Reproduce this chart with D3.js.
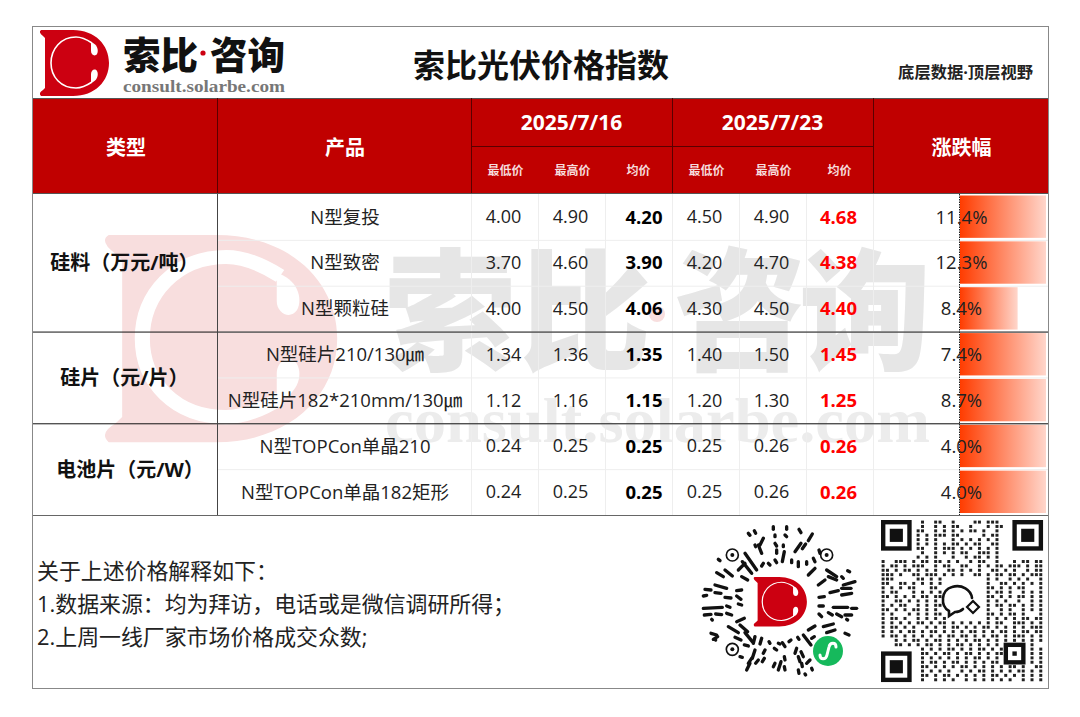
<!DOCTYPE html>
<html>
<head>
<meta charset="utf-8">
<script src="https://cdn.jsdelivr.net/npm/d3@7"></script>
<style>
  html, body { margin: 0; background: #fff; }
  svg { display: block; }
  text { font-family: "Open Sans", "Noto Sans CJK SC", sans-serif; }
</style>
</head>
<body>
<div id="chart"></div>
<script>
const dates = ["2025/7/16", "2025/7/23"];
const priceHeads = ["最低价", "最高价", "均价", "最低价", "最高价", "均价"];
const groups = ["硅料（万元/吨）", "硅片（元/片）", "电池片（元/W）"];
const groupSpans = [3, 2, 2];
const products = [
  "N型复投", "N型致密", "N型颗粒硅", "N型硅片210/130㎛",
  "N型硅片182*210mm/130㎛", "N型TOPCon单晶210", "N型TOPCon单晶182矩形",
];
const lowOld = [4.0, 3.7, 4.0, 1.34, 1.12, 0.24, 0.24];
const highOld = [4.9, 4.6, 4.5, 1.36, 1.16, 0.25, 0.25];
const avgOld = [4.2, 3.9, 4.06, 1.35, 1.15, 0.25, 0.25];
const lowNew = [4.5, 4.2, 4.3, 1.4, 1.2, 0.25, 0.25];
const highNew = [4.9, 4.7, 4.5, 1.5, 1.3, 0.26, 0.26];
const avgNew = [4.68, 4.38, 4.4, 1.45, 1.25, 0.26, 0.26];
const change = [11.4, 12.3, 8.4, 7.4, 8.7, 4.0, 4.0];
// share of the bar cell each data bar fills, as drawn in the picture
const barShare = [1, 1, 0.67, 1, 1, 1, 1];
const notes = [
  "关于上述价格解释如下：",
  "1.数据来源：均为拜访，电话或是微信调研所得；",
  "2.上周一线厂家市场价格成交众数;",
];

const qrRows = [
  ".........1..11..1....11.111..........",
  ".........1..1.1.11..1...1.11.........",
  "........11..1.1.1.1.11.1..1..........",
  "........1.1.111.11.....1.11..........",
  "........1.1.1...1.1.1.1.1.1..........",
  "........1.1.1.1.11.1.11..11..........",
  "........11..1.111.1.1.1.1.1..........",
  ".........1..1.1.1.11..111.1..........",
  "........1.1.1...1..1.11.1.1..........",
  "1..111.1.11.11.1.1..1.11..1...1.11.11",
  "1.11.1.111..1.11..11..1.1.11.111.1.11",
  "11.1.11.1.1.1..11.1.1.1..11.1.1..1.11",
  "111.1..11.111.1.1.1..11.1.11.11.1.111",
  "111.....11.1.1..........1.1..1.1.1..1",
  "11..11.1.1.1.1..........1..11.1.1.1.1",
  "1.1.1.11...11...........11.1.1.11...1",
  "1.11...1.1.1.1..........1.11.1..1.1.1",
  "11.1.1.1.11.11..........11.1.1.11.1.1",
  "1..11.1.1.1.1...........1.1.1..1..1.1",
  "1.1.11..1.1.11..........1.11.11.1.1.1",
  "11.1.1.11.1.1...........1..1.1..1.1.1",
  "1.1...1.1.1.11..........11.1.11.1...1",
  "1.11.1..1.1.1.1.........1.1.1.1.11.11",
  "1.1.1.1.11.1.11.1.1.1.1.1.11..111.1.1",
  "1.11.1.1..1.1.1.11.1.1.11.1.1.1.1.111",
  "1.1.1.11.1.11.1.1.1.11.1.1.11.1.11.11",
  "1.11.1.1.1.1.1.11.11.1.1.11.1.111.1.1",
  "...1.1.11.1.11.1.1.1.11.1.1.1.1.1.1.1",
  "...11.1.1.11.1.1.11.1.1.1.1.1.....1..",
  ".........1.1.1.11.1.1.11.1.1......1.1",
  ".........11.1.11.1.11.1.1.11......1.1",
  ".........1.1.1.1.1.1.11.1.1.......1.1",
  ".........1.11.1.11.1.1.1.11.1.1.1.1.1",
  ".........11.1.1.1.11.1.1.1.1.11.1..11",
  ".........1.1.1.1..1.1.11.1.1.1.11.1.1",
  ".........11.1.11.1.1.1.1.11.1.1.1.1.1",
  ".........1..1.1.1..1.1.1.1.1.1..1.1.1",
];

// dashes of the round code: x1, y1, x2, y2
const codeDashes = [
  [235,20,235,28],[275,20,275,28],[312,28,318,38],[352,42,340,62],[160,40,165,46],[178,32,182,40],
  [205,55,195,75],[190,75,200,100],[240,45,240,50],[270,45,275,50],[240,70,245,78],[265,75,265,80],
  [318,70,300,95],[332,72,322,86],[245,90,245,100],[268,95,262,125],[240,120,245,128],[150,100,185,150],
  [142,125,170,160],[205,130,200,138],[220,130,225,135],[290,120,290,128],[310,125,310,140],[335,125,335,133],
  [355,115,360,125],[372,90,375,100],[180,75,182,80],[70,118,75,122],[90,150,112,168],[65,158,85,170],
  [130,150,150,130],[140,170,158,180],[340,165,360,145],[370,195,390,180],[395,150,425,170],[400,170,425,180],
  [458,152,464,155],[440,170,445,175],[445,195,480,185],[440,205,468,205],[405,218,430,212],[440,225,470,220],
  [25,228,35,226],[30,208,48,210],[60,195,95,205],[60,218,78,220],[90,232,108,234],[125,212,140,210],
  [125,228,138,238],[25,265,82,262],[95,258,105,262],[28,285,48,283],[62,282,80,284],[95,280,110,285],
  [130,252,140,255],[50,298,52,300],[372,232,388,230],[415,262,458,262],[470,265,485,265],[372,258,385,258],
  [400,278,412,285],[425,282,440,290],[450,285,470,285],[372,282,380,290],[455,298,458,300],[125,305,148,295],
  [100,320,130,338],[135,315,158,335],[48,340,65,345],[55,358,68,350],[120,352,138,360],[150,338,172,365],
  [175,370,180,350],[200,355,195,372],[222,365,225,370],[250,370,255,372],[282,365,288,360],[308,352,312,358],
  [325,345,348,375],[360,318,340,330],[385,320,415,312],[395,338,420,330],[450,340,462,345],[350,355,358,350],
  [180,390,172,415],[210,390,205,400],[160,430,170,415],[155,450,165,430],[182,430,190,420],[202,425,208,415],
  [235,440,240,430],[250,450,258,425],[268,410,270,420],[268,440,270,450],[238,385,245,390],[262,368,270,380],
  [300,400,305,385],[318,395,325,410],[310,410,315,425],[320,430,322,440],[335,430,345,420],[350,445,352,450],
  [310,450,312,460],[330,462,332,465],[148,375,160,378],[60,358,62,360],[135,410,142,412],
];

const W = 1080, H = 717;
const box = { left: 32, right: 1048, top: 26, bottom: 688 };
const headTop = 98, headBottom = 194, headMid = 146, tableBottom = 515;
const colType = 217, colPrice = 471, colPriceEnd = 873;
const RED = "#c00000", LINE = "#5a0000", GRID = "#eeeeee";

const x = d3.scaleBand().domain(d3.range(6)).range([colPrice, colPriceEnd]);
const y = d3.scaleBand().domain(d3.range(products.length)).range([headBottom, tableBottom]);
const barX = d3.scaleLinear().domain([0, 1]).range([960, 1046]);
const fmt = d3.format(".2f");

const svg = d3.select("#chart").append("svg").attr("width", W).attr("height", H);
svg.append("rect").attr("width", W).attr("height", H).attr("fill", "#fff");

const defs = svg.append("defs");
const grad = defs.append("linearGradient").attr("id", "barFill");
grad.append("stop").attr("offset", "0").attr("stop-color", "#ff3c00");
grad.append("stop").attr("offset", "1").attr("stop-color", "#ffd6cb");

function line(x1, y1, x2, y2, color, width) {
  svg.append("line").attr("x1", x1).attr("y1", y1).attr("x2", x2).attr("y2", y2)
    .attr("stroke", color).attr("stroke-width", width || 1);
}

function label(g, str, px, py, size, opts) {
  opts = opts || {};
  return g.append("text").attr("x", px).attr("y", py)
    .attr("text-anchor", opts.anchor || "middle")
    .attr("dominant-baseline", "central")
    .attr("font-size", size)
    .attr("font-weight", opts.weight || 400)
    .attr("fill", opts.fill || "#222")
    .text(str);
}

// D mark with the open C ring, 70 x 66 in local units
function drawLogo(px, py, sx, sy, red, ring, ringWidth) {
  const g = svg.append("g").attr("transform", `translate(${px},${py}) scale(${sx},${sy})`);
  g.append("path")
    .attr("d", "M2,0 L34,0 C56,0 70,15 70,33 C70,51 56,66 34,66 L2,66 Q-1,63 4,60 L6,58 L6,8 L4,6 Q-1,2 2,0 Z")
    .attr("fill", red);
  g.append("path")
    .attr("d", "M53,13 C47,9 42,7 37,7 C22,7 12,19 12,33 C12,47 22,58 37,58 C42,58 47,56 53,52")
    .attr("fill", "none").attr("stroke", ring).attr("stroke-width", ringWidth);
  g.append("path").attr("d", "M52,12 C58,14 60,20 58,24 C56,27 52,25 52,21 Z").attr("fill", ring);
  g.append("path").attr("d", "M52,53 C58,51 60,45 58,41 C56,38 52,40 52,44 Z").attr("fill", ring);
}

// watermark
drawLogo(102, 235, 3.36, 3.14, "#f8dede", "#ffffff", 4.5);
const mark = svg.append("g");
[["索", 450], ["比", 585], ["咨", 740], ["询", 865]].forEach(([ch, cx]) => {
  label(mark, ch, cx, 309, 132, { weight: 900, fill: "#e6e6e6" });
});
mark.append("circle").attr("cx", 657).attr("cy", 314).attr("r", 8).attr("fill", "#f8dede");
label(mark, "consult.solarbe.com", 385, 420, 64, { anchor: "start", weight: 700, fill: "#ececec" })
  .style("font-family", "'Liberation Serif', serif")
  .attr("textLength", 545).attr("lengthAdjust", "spacingAndGlyphs");

// body grid
y.domain().slice(1).forEach((i) => line(colType, y(i) + 0.5, box.right, y(i) + 0.5, GRID));
x.domain().slice(1).forEach((i) => line(x(i) + 0.5, headBottom, x(i) + 0.5, tableBottom, GRID));
line(colPrice + 0.5, headBottom, colPrice + 0.5, tableBottom, GRID);
line(colPriceEnd + 0.5, headBottom, colPriceEnd + 0.5, tableBottom, GRID);

// data bars
svg.selectAll("rect.bar")
  .data(barShare)
  .join("rect")
  .attr("class", "bar")
  .attr("x", barX(0))
  .attr("y", (d, i) => y(i) + 1.5)
  .attr("width", (d) => barX(d) - barX(0))
  .attr("height", y.bandwidth() - 3.5)
  .attr("fill", "url(#barFill)");
svg.append("line").attr("x1", 959.5).attr("x2", 959.5).attr("y1", headBottom).attr("y2", tableBottom)
  .attr("stroke", "#222").attr("stroke-dasharray", "1.5 1");

// group lines
let rowAt = 0;
groupSpans.forEach((span, k) => {
  rowAt += span;
  if (k < groupSpans.length - 1) line(box.left, y(rowAt) + 0.5, box.right, y(rowAt) + 0.5, "#111");
});
line(box.left, tableBottom + 0.5, box.right, tableBottom + 0.5, "#666");
line(colType + 0.5, headBottom, colType + 0.5, tableBottom, "#444");

// header
svg.append("rect").attr("x", box.left).attr("y", headTop).attr("width", box.right - box.left)
  .attr("height", headBottom - headTop).attr("fill", RED);
line(box.left, headTop + 0.5, box.right, headTop + 0.5, "#555");
line(colType + 0.5, headTop, colType + 0.5, headBottom, LINE);
line(colPrice + 0.5, headTop, colPrice + 0.5, headBottom, LINE);
line(x(3) + 0.5, headTop, x(3) + 0.5, headBottom, LINE);
line(colPriceEnd + 0.5, headTop, colPriceEnd + 0.5, headBottom, LINE);
line(colPrice, headMid + 0.5, colPriceEnd, headMid + 0.5, LINE);
line(box.left, headBottom - 0.5, box.right, headBottom - 0.5, "#555");

const head = svg.append("g");
label(head, "类型", 126, 147, 20, { weight: 700, fill: "#fff" });
label(head, "产品", 345, 147, 20, { weight: 700, fill: "#fff" });
label(head, "涨跌幅", 961.5, 147, 20, { weight: 700, fill: "#fff" });
dates.forEach((d, i) => label(head, d, x(i * 3) + x.step() * 1.5, 122, 21, { weight: 700, fill: "#fff" }));
priceHeads.forEach((d, i) => label(head, d, x(i) + x.bandwidth() / 2 + (i % 3 === 2 ? 0 : 1), 170, 12, { weight: 700, fill: "#f6dcdc" }));

// group labels
rowAt = 0;
groupSpans.forEach((span, k) => {
  const cy = (y(rowAt) + y(rowAt + span - 1) + y.bandwidth()) / 2;
  label(svg, groups[k], k === 2 ? 130 : 124.5, cy, 20, { weight: 700, fill: "#111" });
  rowAt += span;
});

// body cells
products.forEach((p, i) => {
  const cy = y(i) + y.bandwidth() / 2 - 0.8;
  label(svg, p, 345, cy, 18.5);
  [lowOld, highOld].forEach((col, c) => label(svg, fmt(col[i]), x(c) + x.bandwidth() / 2 - 1, cy, 18));
  label(svg, fmt(avgOld[i]), x(2) + x.bandwidth() / 2 + 5.5, cy, 18.5, { weight: 700, fill: "#000" });
  [lowNew, highNew].forEach((col, c) => label(svg, fmt(col[i]), x(c + 3) + x.bandwidth() / 2 - 1, cy, 18));
  label(svg, fmt(avgNew[i]), x(5) + x.bandwidth() / 2 - 1, cy, 18.5, { weight: 700, fill: "#ff0000" });
  label(svg, d3.format(".1f")(change[i]) + "%", 961.5, cy, 18.5);
});

// top strip
drawLogo(39, 30, 1, 1, "#cc0011", "#ffffff", 1.6);
label(svg, "索比", 123, 54, 37.5, { anchor: "start", weight: 900, fill: "#111" });
svg.append("circle").attr("cx", 203).attr("cy", 53).attr("r", 2.6).attr("fill", "#cc0011");
label(svg, "咨询", 210, 54, 37.5, { anchor: "start", weight: 900, fill: "#111" });
label(svg, "consult.solarbe.com", 123, 86, 17, { anchor: "start", weight: 700, fill: "#777" })
  .style("font-family", "'Liberation Serif', serif")
  .attr("textLength", 162).attr("lengthAdjust", "spacingAndGlyphs");
label(svg, "索比光伏价格指数", 541, 64, 32, { weight: 700, fill: "#111" });
label(svg, "底层数据·顶层视野", 1033, 72, 16.3, { anchor: "end", weight: 700, fill: "#222" });

// notes
notes.forEach((n, i) => label(svg, n, 37, [570, 603, 636][i], 21.9, { anchor: "start" }));

// round code
const code = svg.append("g").attr("transform", "translate(695,520) scale(0.3333)");
code.selectAll("line").data(codeDashes).join("line")
  .attr("x1", (d) => d[0]).attr("y1", (d) => d[1]).attr("x2", (d) => d[2]).attr("y2", (d) => d[3])
  .attr("stroke", "#111").attr("stroke-width", 10).attr("stroke-linecap", "round");
[[112, 105], [395, 105], [112, 388]].forEach(([cx, cy]) => {
  code.append("circle").attr("cx", cx).attr("cy", cy).attr("r", 18).attr("fill", "none")
    .attr("stroke", "#111").attr("stroke-width", 5);
  code.append("circle").attr("cx", cx).attr("cy", cy).attr("r", 6).attr("fill", "#111");
});
drawLogo(753, 577, 0.77, 0.75, "#cc0011", "#ffffff", 1.6);
svg.append("circle").attr("cx", 828).attr("cy", 651).attr("r", 15).attr("fill", "#16b95c");
svg.append("path")
  .attr("d", "M820,655 C820,660 826,660 827,655 L829,647 C830,642 836,642 836,647")
  .attr("fill", "none").attr("stroke", "#fff").attr("stroke-width", 3).attr("stroke-linecap", "round");

// square code
const qrX = 881, qrY = 520, cell = 4.38;
const qr = svg.append("g");
qrRows.forEach((row, r) => {
  row.split("").forEach((ch, c) => {
    if (ch === "1") {
      qr.append("rect").attr("x", qrX + c * cell + 0.6).attr("y", qrY + r * cell + 0.6)
        .attr("width", cell - 1.4).attr("height", cell - 1.4).attr("fill", "#222");
    }
  });
});
[[0, 0], [30, 0], [0, 30]].forEach(([c, r]) => {
  qr.append("rect").attr("x", qrX + c * cell + cell / 2).attr("y", qrY + r * cell + cell / 2)
    .attr("width", cell * 6).attr("height", cell * 6).attr("fill", "#fff")
    .attr("stroke", "#111").attr("stroke-width", cell);
  qr.append("rect").attr("x", qrX + (c + 2) * cell).attr("y", qrY + (r + 2) * cell)
    .attr("width", cell * 3).attr("height", cell * 3).attr("fill", "#111");
});
qr.append("rect").attr("x", qrX + 28.5 * cell).attr("y", qrY + 28.5 * cell)
  .attr("width", cell * 4).attr("height", cell * 4).attr("fill", "#fff")
  .attr("stroke", "#111").attr("stroke-width", cell);
qr.append("rect").attr("x", qrX + 30 * cell).attr("y", qrY + 30 * cell)
  .attr("width", cell).attr("height", cell).attr("fill", "#111");
qr.append("path")
  .attr("d", "M949,611 C940,606 941,590 952,587 C962,584 971,590 972,598 M949,611 L949,616 L955,612 C958,612 961,611 963,609")
  .attr("fill", "none").attr("stroke", "#111").attr("stroke-width", 2.6).attr("stroke-linecap", "round");
qr.append("path").attr("d", "M973,601 L979,607 L973,613 L967,607 Z")
  .attr("fill", "none").attr("stroke", "#111").attr("stroke-width", 2.2);

// frame
svg.append("rect").attr("x", box.left + 0.5).attr("y", box.top + 0.5)
  .attr("width", box.right - box.left).attr("height", box.bottom - box.top)
  .attr("fill", "none").attr("stroke", "#888");
</script>
</body>
</html>
